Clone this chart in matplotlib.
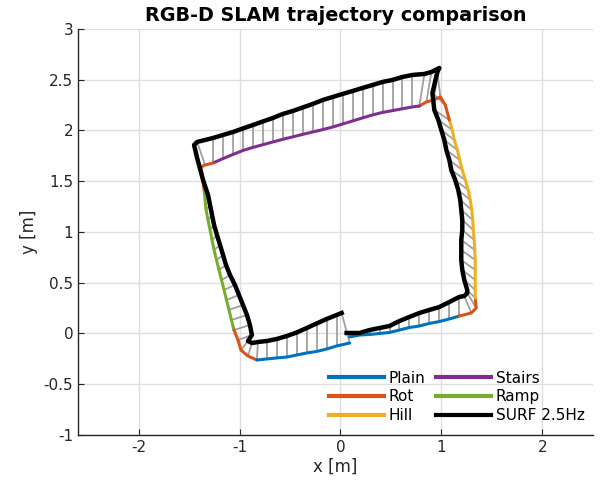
import matplotlib
matplotlib.use("Agg")
import matplotlib.pyplot as plt
import numpy as np
from matplotlib.ticker import FuncFormatter

# Ground-truth segments (x, y in metres), in driving order
segments = ["Plain", "Rot", "Hill", "Rot", "Stairs", "Rot", "Ramp", "Rot", "Plain"]
gt_x = [
    [0.091, 0.190, 0.288, 0.387, 0.486, 0.585, 0.683, 0.782, 0.881, 0.980, 1.079, 1.177],
    [1.296, 1.345, 1.335],
    [1.335, 1.335, 1.335, 1.335, 1.330, 1.325, 1.316, 1.311, 1.301, 1.286, 1.266, 1.237,
     1.207, 1.182, 1.158, 1.128, 1.108, 1.079],
    [1.039, 0.990, 0.920, 0.851, 0.782],
    [0.713, 0.614, 0.516, 0.417, 0.318, 0.219, 0.121, 0.022, -0.077, -0.176, -0.275,
     -0.373, -0.472, -0.571, -0.670, -0.768, -0.867, -0.966, -1.064, -1.163, -1.262],
    [-1.341, -1.381, -1.371, -1.351],
    [-1.341, -1.331, -1.312, -1.292, -1.272, -1.252, -1.228, -1.203, -1.178, -1.153,
     -1.129, -1.104, -1.080, -1.055],
    [-1.015, -0.986, -0.916, -0.828],
    [-0.729, -0.630, -0.531, -0.433, -0.334, -0.235, -0.136, -0.038, 0.091],
]
gt_y = [
    [-0.034, -0.015, -0.010, 0.000, 0.010, 0.034, 0.059, 0.074, 0.099, 0.118, 0.143, 0.172],
    [0.202, 0.251, 0.350],
    [0.429, 0.527, 0.626, 0.724, 0.823, 0.921, 1.020, 1.118, 1.217, 1.315, 1.414, 1.512,
     1.611, 1.709, 1.808, 1.906, 2.005, 2.103],
    [2.251, 2.330, 2.300, 2.281, 2.241],
    [2.232, 2.214, 2.196, 2.178, 2.153, 2.124, 2.094, 2.064, 2.034, 2.009, 1.985,
     1.962, 1.937, 1.913, 1.887, 1.860, 1.833, 1.803, 1.764, 1.723, 1.680],
    [1.660, 1.640, 1.562, 1.414],
    [1.315, 1.217, 1.118, 1.020, 0.921, 0.823, 0.724, 0.626, 0.527, 0.429,
     0.330, 0.232, 0.133, 0.034],
    [-0.064, -0.163, -0.222, -0.261],
    [-0.251, -0.241, -0.232, -0.212, -0.192, -0.177, -0.153, -0.123, -0.094],
]
# SURF 2.5Hz estimate, one point per ground-truth point
surf_x = [
    [0.061, 0.190, 0.288, 0.387, 0.486, 0.585, 0.683, 0.782, 0.881, 0.980, 1.079, 1.177],
    [1.227, 1.256, 1.256],
    [1.227, 1.207, 1.197, 1.197, 1.197, 1.207, 1.207, 1.197, 1.187, 1.167, 1.137, 1.098,
     1.079, 1.049, 1.029, 0.999, 0.970, 0.930],
    [0.911, 0.960, 0.980, 0.901, 0.832],
    [0.713, 0.614, 0.516, 0.417, 0.318, 0.219, 0.121, 0.022, -0.077, -0.176, -0.275,
     -0.373, -0.472, -0.571, -0.670, -0.768, -0.867, -0.966, -1.064, -1.163, -1.262],
    [-1.420, -1.450, -1.420, -1.361],
    [-1.312, -1.292, -1.272, -1.252, -1.223, -1.193, -1.163, -1.134, -1.094, -1.045,
     -1.005, -0.966, -0.926, -0.897],
    [-0.877, -0.916, -0.877, -0.818],
    [-0.729, -0.630, -0.531, -0.433, -0.334, -0.235, -0.136, -0.038, 0.012],
]
surf_y = [
    [0.005, 0.005, 0.034, 0.054, 0.074, 0.123, 0.163, 0.202, 0.232, 0.261, 0.310, 0.360],
    [0.369, 0.399, 0.429],
    [0.527, 0.626, 0.724, 0.823, 0.921, 1.020, 1.118, 1.217, 1.315, 1.414, 1.512, 1.611,
     1.709, 1.808, 1.906, 2.005, 2.103, 2.202],
    [2.369, 2.576, 2.616, 2.576, 2.557],
    [2.547, 2.527, 2.498, 2.478, 2.448, 2.419, 2.389, 2.360, 2.330, 2.300, 2.261,
     2.227, 2.192, 2.163, 2.123, 2.089, 2.054, 2.020, 1.985, 1.956, 1.926],
    [1.887, 1.857, 1.729, 1.512],
    [1.365, 1.266, 1.167, 1.069, 0.970, 0.872, 0.773, 0.675, 0.576, 0.478,
     0.379, 0.281, 0.182, 0.084],
    [-0.015, -0.074, -0.094, -0.084],
    [-0.074, -0.054, -0.025, 0.010, 0.054, 0.099, 0.143, 0.182, 0.202],
]

colors = {"Plain": "#0072BD", "Rot": "#D95319", "Hill": "#EDB120",
          "Stairs": "#7E2F8E", "Ramp": "#77AC30"}

fig = plt.figure(figsize=(6.0, 4.87), dpi=100)
ax = fig.add_axes([0.13, 0.1068, 0.858, 0.8337])

sx = np.concatenate(surf_x)
sy = np.concatenate(surf_y)
gx = np.concatenate(gt_x)
gy = np.concatenate(gt_y)

for a, b, c, d in zip(gx, gy, sx, sy):
    ax.plot([a, c], [b, d], color="#a0a0a0", lw=1.3, zorder=2)

prev = None
for name, xs, ys in zip(segments, gt_x, gt_y):
    px, py = list(xs), list(ys)
    if prev is not None:
        px = [prev[0]] + px
        py = [prev[1]] + py
    ax.plot(px, py, color=colors[name], lw=2.2, zorder=3, solid_capstyle="round")
    prev = (xs[-1], ys[-1])

ax.plot(sx, sy, color="black", lw=3.2, zorder=4, solid_joinstyle="round")

# legend handles
handles = []
for name in ["Plain", "Rot", "Hill", "Stairs", "Ramp"]:
    handles.append(plt.Line2D([], [], color=colors[name], lw=3))
handles.append(plt.Line2D([], [], color="black", lw=3))
labels = ["Plain", "Rot", "Hill", "Stairs", "Ramp", "SURF 2.5Hz"]
ax.legend(handles, labels, ncol=2, loc="lower right", frameon=False,
          fontsize=11, handlelength=3.6, handletextpad=0.3,
          columnspacing=0.7, labelspacing=0.25, borderaxespad=0.1,
          bbox_to_anchor=(0.999, 0.01))

ax.set_xlim(-2.6, 2.5)
ax.set_ylim(-1, 3)
ax.set_xticks([-2, -1, 0, 1, 2])
ax.set_yticks(np.arange(-1, 3.01, 0.5))
fmt = FuncFormatter(lambda v, p: "%g" % v)
ax.xaxis.set_major_formatter(fmt)
ax.yaxis.set_major_formatter(fmt)
ax.grid(True, color="#dedede", lw=1.0)
ax.set_axisbelow(True)
for s in ["top", "right"]:
    ax.spines[s].set_visible(False)
for s in ["left", "bottom"]:
    ax.spines[s].set_color("#262626")
    ax.spines[s].set_linewidth(1.0)
ax.tick_params(direction="in", length=4, colors="#262626", labelsize=11)
ax.set_xlabel("x [m]", fontsize=12, color="#262626", labelpad=2)
ax.set_ylabel("y [m]", fontsize=12, color="#262626", labelpad=4)
ax.set_title("RGB-D SLAM trajectory comparison", fontsize=13.8,
             fontweight="bold", pad=6)

fig.savefig("out.png", dpi=100)
